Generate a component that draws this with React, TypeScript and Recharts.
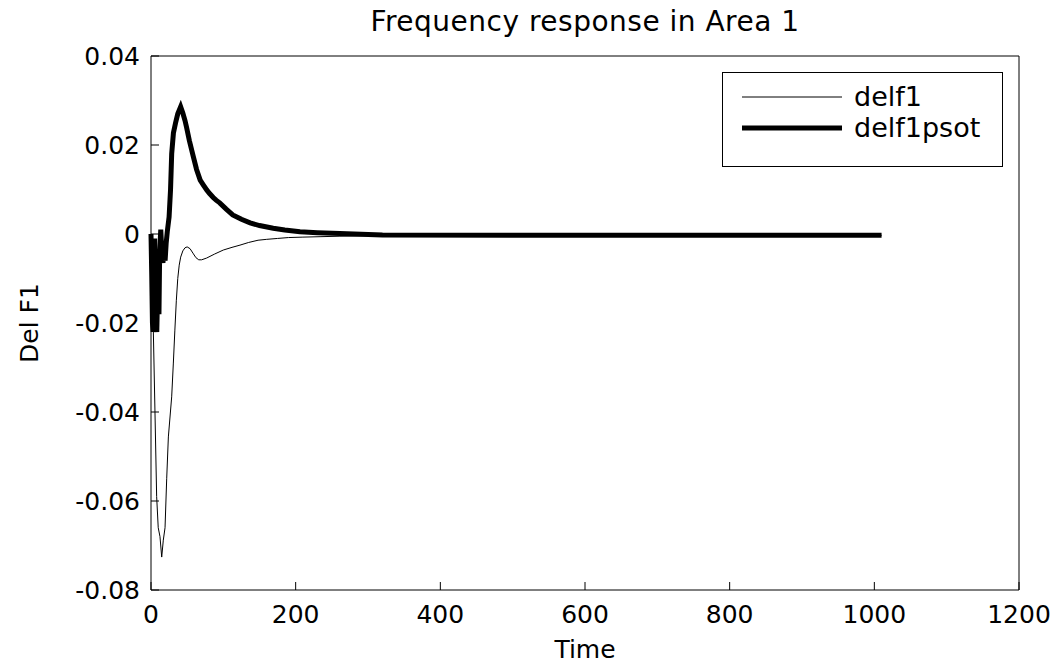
import React from 'react';
import { LineChart, Line, XAxis, YAxis, Legend } from 'recharts';

// delf1 (thin line)
const delf1Time = [0, 1.5, 3.2, 5.5, 7.8, 10, 12.4, 14.8, 17, 19.4, 21.7, 24, 28.6, 30.9, 33, 35, 37, 39, 41, 44, 47, 50, 54, 58, 62, 66, 70, 77, 88, 100, 112, 123, 135, 148, 160, 175, 190, 210, 235, 260, 300, 350, 500, 700, 900, 1010];
const delf1Vals = [0, -0.008, -0.0216, -0.04, -0.059, -0.066, -0.068, -0.0726, -0.0688, -0.066, -0.055, -0.0456, -0.0366, -0.029, -0.0216, -0.015, -0.01, -0.007, -0.0052, -0.0038, -0.0031, -0.0029, -0.0033, -0.0043, -0.0053, -0.0058, -0.0058, -0.0054, -0.0045, -0.0036, -0.003, -0.0025, -0.0019, -0.0014, -0.0012, -0.001, -0.0008, -0.0007, -0.0006, -0.0005, -0.0004, -0.0004, -0.0003, -0.0003, -0.0003, -0.0003];

// delf1psot (thick line)
const psotTime = [0, 1, 2, 3, 4, 5, 6, 7, 8, 9, 10, 11, 12, 13.5, 15, 16.5, 18, 19.5, 21, 22.5, 25, 27, 28.6, 31, 34, 37, 41, 44, 47, 49, 53, 58.5, 63, 68, 72, 77, 81, 86, 90, 95, 104, 113, 125, 137, 150, 169, 185, 206, 230, 261, 320, 500, 800, 1010];
const psotVals = [0, -0.009, -0.02, -0.022, -0.01, -0.001, -0.012, -0.021, -0.022, -0.014, -0.006, -0.018, -0.004, 0.001, -0.004, -0.0065, -0.003, -0.006, -0.002, 0.0005, 0.0038, 0.0099, 0.018, 0.0227, 0.025, 0.027, 0.0286, 0.0272, 0.0255, 0.0241, 0.021, 0.0174, 0.0145, 0.0121, 0.0111, 0.0099, 0.0091, 0.0082, 0.0076, 0.007, 0.0056, 0.0043, 0.0033, 0.0025, 0.0019, 0.0013, 0.0009, 0.0005, 0.0003, 0.0001, -0.0002, -0.0003, -0.0003, -0.0003];

const xTicks = [0, 200, 400, 600, 800, 1000, 1200];
const yTicks = [-0.08, -0.06, -0.04, -0.02, 0, 0.02, 0.04];

const FONT = '"DejaVu Sans", Arial, sans-serif';

const delf1Data = delf1Time.map((t, i) => ({ t, v: delf1Vals[i] }));
const psotData = psotTime.map((t, i) => ({ t, v: psotVals[i] }));

const fmtY = (v: number) => (Math.abs(v) < 1e-9 ? '0' : v.toFixed(2));

// MATLAB style boxed legend
const BoxLegend = () => (
  <div
    style={{
      width: 281,
      height: 95,
      border: '1px solid #000',
      background: '#fff',
      fontFamily: FONT,
      fontSize: 27,
      color: '#000',
      boxSizing: 'border-box',
    }}
  >
    {[
      { name: 'delf1', w: 1 },
      { name: 'delf1psot', w: 5 },
    ].map((item, i) => (
      <div key={item.name} style={{ position: 'absolute', left: 20, top: 10 + i * 31, height: 30, display: 'flex', alignItems: 'center' }}>
        <svg width={100} height={30}>
          <line x1={0} y1={15} x2={100} y2={15} stroke="#000" strokeWidth={item.w} />
        </svg>
        <span style={{ marginLeft: 12, lineHeight: '30px' }}>{item.name}</span>
      </div>
    ))}
  </div>
);

export default function App() {
  return (
    <div style={{ position: 'absolute', left: 0, top: 0, width: 1057, height: 665, background: '#fff' }}>
      <div
        style={{
          position: 'absolute',
          left: 151,
          width: 868,
          top: 5,
          textAlign: 'center',
          fontFamily: FONT,
          fontSize: 28,
          letterSpacing: 0.5,
          color: '#000',
          zIndex: 2,
        }}
      >
        Frequency response in Area 1
      </div>
      <LineChart width={1057} height={665} margin={{ top: 0, right: 0, bottom: 0, left: 0 }}>
        <XAxis
          xAxisId="b"
          type="number"
          dataKey="t"
          domain={[0, 1200]}
          ticks={xTicks}
          height={75}
          tickSize={-8}
          tickMargin={23}
          stroke="#000"
          tick={{ fill: '#000', fontSize: 25, fontFamily: FONT }}
          label={{ value: 'Time', position: 'insideBottom', offset: 7, fill: '#000', fontSize: 25, fontFamily: FONT }}
        />
        <XAxis
          xAxisId="top"
          orientation="top"
          type="number"
          dataKey="t"
          domain={[0, 1200]}
          ticks={xTicks}
          height={56}
          tickSize={-8}
          tick={false}
          stroke="#000"
        />
        <YAxis
          yAxisId="l"
          type="number"
          domain={[-0.08, 0.04]}
          ticks={yTicks}
          width={151}
          tickSize={-8}
          tickMargin={19}
          tickFormatter={fmtY}
          stroke="#000"
          tick={{ fill: '#000', fontSize: 25, fontFamily: FONT }}
          label={{
            value: 'Del F1',
            angle: -90,
            position: 'insideLeft',
            offset: 29,
            fill: '#000',
            fontSize: 25,
            fontFamily: FONT,
            style: { textAnchor: 'middle' },
          }}
        />
        <YAxis
          yAxisId="r"
          orientation="right"
          type="number"
          domain={[-0.08, 0.04]}
          ticks={yTicks}
          width={38}
          tickSize={-8}
          tick={false}
          stroke="#000"
        />
        <Legend
          layout="vertical"
          align="center"
          verticalAlign="middle"
          content={<BoxLegend />}
          wrapperStyle={{ left: 722, top: 72, width: 281, height: 95 }}
        />
        <Line
          xAxisId="b"
          yAxisId="l"
          data={delf1Data}
          dataKey="v"
          name="delf1"
          type="linear"
          stroke="#000"
          strokeWidth={1}
          dot={false}
          isAnimationActive={false}
        />
        <Line
          xAxisId="b"
          yAxisId="l"
          data={psotData}
          dataKey="v"
          name="delf1psot"
          type="linear"
          stroke="#000"
          strokeWidth={5}
          dot={false}
          isAnimationActive={false}
        />
      </LineChart>
    </div>
  );
}
